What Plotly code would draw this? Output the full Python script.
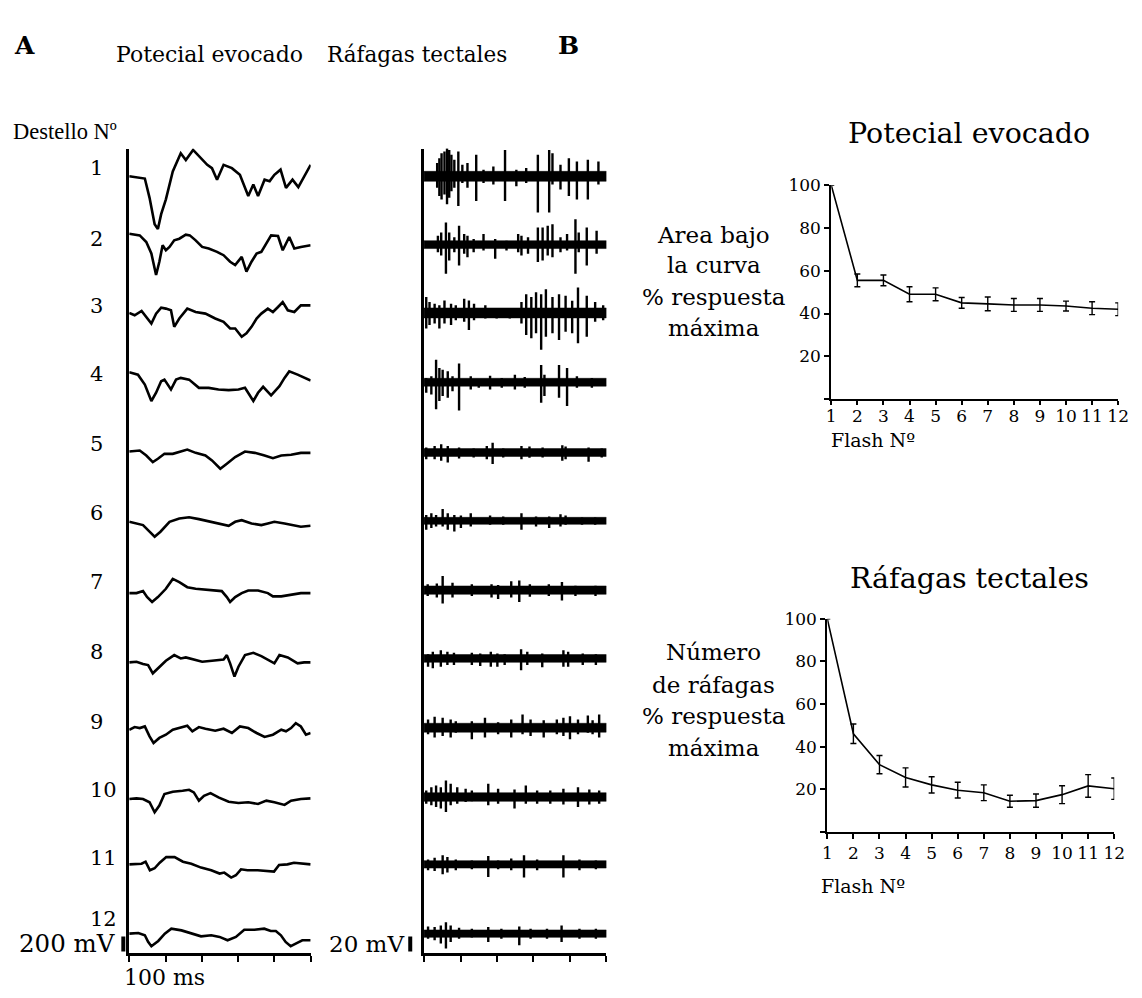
import plotly.graph_objects as go

# ---------------- DATA ----------------
FLASH = [1, 2, 3, 4, 5, 6, 7, 8, 9, 10, 11, 12]
EP_AREA = [100, 55.5, 55.5, 49, 49, 45, 44.5, 44, 44, 43.5, 42.5, 42]
EP_AREA_ERR = [0, 3, 2.5, 3.5, 3, 2.5, 3.2, 3, 3, 2.3, 3, 3]
BURST_N = [100, 46, 31.5, 25.5, 22, 19.5, 18.3, 14.3, 14.6, 17.4, 21.5, 20.2]
BURST_N_ERR = [0, 4.6, 4.3, 4.5, 3.8, 3.7, 3.7, 2.8, 3.1, 4.2, 5.3, 5]
Y_TICKS = [0, 20, 40, 60, 80, 100]
Y_TICK_TEXT = ["", "20", "40", "60", "80", "100"]
T_TICKS = [0, 100, 200, 300, 400, 500]
TRACE_LABELS = ["1", "2", "3", "4", "5", "6", "7", "8", "9", "10", "11", "12"]
YLAB_TOP = ["Area bajo", "la curva", "% respuesta", "máxima"]
YLAB_BOT = ["Número", "de ráfagas", "% respuesta", "máxima"]

# evoked potentials: time (ms) and amplitude (mV, relative to trace start)
EP_T = [
    [0, 43, 56, 70, 79, 88, 101, 120, 142, 156, 176, 197, 215, 228, 242, 260, 283, 305, 328, 342, 355, 373, 387, 400, 417, 432, 450, 466, 500],
    [0, 29, 47, 61, 74, 83, 92, 101, 111, 124, 138, 156, 167, 183, 201, 219, 242, 260, 278, 292, 310, 323, 337, 351, 364, 378, 391, 410, 423, 441, 455, 473, 500],
    [0, 15, 34, 47, 61, 74, 88, 101, 115, 124, 138, 160, 183, 210, 237, 260, 278, 292, 310, 323, 337, 351, 364, 382, 396, 410, 423, 437, 455, 473, 500],
    [0, 24, 43, 61, 74, 88, 97, 115, 129, 142, 165, 192, 219, 246, 274, 301, 319, 333, 342, 355, 369, 391, 414, 428, 441, 464, 500],
    [0, 29, 47, 65, 79, 97, 120, 142, 160, 183, 210, 228, 251, 269, 292, 319, 346, 373, 396, 419, 446, 473, 500],
    [0, 38, 56, 70, 86, 111, 138, 165, 192, 228, 251, 274, 292, 310, 337, 364, 382, 400, 428, 455, 473, 500],
    [0, 20, 38, 49, 63, 79, 101, 120, 138, 160, 183, 219, 255, 269, 278, 292, 310, 328, 355, 382, 396, 419, 446, 473, 500],
    [0, 20, 38, 52, 65, 79, 101, 124, 142, 156, 174, 201, 228, 260, 269, 278, 290, 301, 319, 342, 364, 382, 400, 414, 437, 464, 482, 500],
    [0, 15, 29, 43, 56, 67, 83, 101, 120, 138, 160, 174, 192, 210, 237, 260, 283, 305, 328, 351, 373, 396, 419, 432, 446, 459, 473, 487, 500],
    [0, 20, 38, 56, 70, 83, 97, 120, 147, 165, 178, 192, 206, 224, 246, 274, 301, 328, 355, 378, 400, 428, 446, 473, 500],
    [0, 34, 45, 57, 70, 84, 102, 125, 148, 171, 198, 226, 249, 262, 281, 294, 308, 326, 354, 381, 399, 413, 436, 454, 473, 500],
    [0, 25, 43, 52, 61, 80, 98, 116, 144, 171, 198, 226, 249, 271, 294, 317, 345, 372, 390, 404, 418, 431, 445, 463, 477, 500],
]
EP_V = [
    [0, -30, -290, -645, -710, -510, -310, 65, 310, 220, 355, 245, 155, 110, -45, 155, 110, 20, -265, -110, -265, -45, -65, 20, 90, -155, -45, -145, 155],
    [0, -22, -111, -266, -555, -377, -155, -222, -178, -89, -67, -13, -22, -89, -178, -200, -244, -289, -377, -422, -311, -511, -377, -266, -244, -133, -22, -31, -222, -44, -200, -178, -155],
    [0, -31, 27, -53, -142, -9, 71, 58, 36, -187, -75, 58, 13, -9, -75, -120, -209, -209, -320, -275, -187, -75, -9, 58, 13, 80, 147, 36, 13, 102, 102],
    [0, -31, -164, -386, -275, -120, -98, -231, -98, -75, -98, -209, -209, -231, -240, -231, -209, -320, -386, -275, -195, -311, -186, -75, 13, -31, -111],
    [0, 13, -53, -142, -98, -31, -31, 0, 27, -18, -53, -120, -231, -164, -75, 0, -18, -53, -89, -53, -44, -18, -18],
    [0, -44, -133, -200, -133, 0, 44, 62, 36, 0, -22, -53, 0, 22, -22, -44, -22, 0, -22, -44, -67, -53],
    [0, 0, 27, -53, -120, -53, 58, 191, 147, 80, 58, 44, 27, -53, -120, -53, 0, 36, 36, 0, -44, -44, -18, 0, 0],
    [0, 9, -22, -36, -147, -80, 22, 98, 53, 67, 40, 9, 22, 40, 98, -13, -191, -58, 98, 129, 84, 40, -13, 98, 67, -13, 0, 0],
    [0, 36, 22, 44, -89, -178, -111, -67, 0, 22, 53, -22, 36, 13, -13, 13, -44, 44, 22, -44, -98, -67, 0, -22, 22, 89, 44, -67, -44],
    [0, 9, 0, -44, -178, -89, 67, 98, 111, 124, 89, -22, 44, 80, 22, -36, -53, -44, -67, -22, -44, -80, -22, 0, 9],
    [0, 9, 36, -80, -53, 22, 98, 98, 36, 9, -44, -80, -124, -111, -178, -147, -67, -80, -80, -89, -98, -9, 0, 22, 9, 0],
    [0, 9, -22, -111, -169, -98, 0, 67, 44, 9, -36, -22, -44, -89, -44, 53, 53, 67, 36, 36, -22, -111, -169, -124, -89, -89],
]

# tectal bursts: spike times (ms), upward and downward excursions (mV), background noise (mV)
BU_T = [
    [36, 42, 48, 56, 63, 69, 75, 83, 94, 105, 119, 143, 163, 190, 222, 253, 280, 312, 343, 352, 374, 397, 419, 449, 478],
    [38, 47, 60, 69, 83, 96, 110, 119, 136, 163, 195, 226, 258, 267, 285, 312, 325, 339, 352, 374, 392, 415, 424, 446, 473],
    [6, 15, 29, 42, 56, 74, 87, 110, 123, 137, 168, 199, 235, 267, 280, 294, 307, 321, 334, 352, 370, 388, 406, 422, 446, 469, 491],
    [6, 20, 33, 42, 51, 65, 78, 96, 128, 150, 181, 213, 249, 276, 321, 330, 370, 392, 419, 460],
    [6, 29, 47, 65, 96, 136, 172, 188, 217, 267, 289, 325, 379, 388, 451, 487],
    [6, 20, 33, 51, 65, 83, 101, 128, 181, 217, 267, 307, 343, 374, 388, 433, 469],
    [10, 35, 51, 78, 131, 185, 203, 239, 261, 290, 342, 378, 415, 470],
    [11, 24, 46, 64, 82, 131, 154, 183, 201, 221, 266, 283, 324, 382, 395, 435, 471],
    [11, 29, 51, 73, 87, 131, 167, 203, 239, 270, 292, 328, 364, 382, 400, 422, 449, 462, 480],
    [6, 20, 33, 46, 60, 73, 91, 114, 131, 176, 203, 248, 279, 310, 346, 382, 422, 453, 480],
    [11, 29, 51, 64, 87, 131, 176, 203, 239, 274, 310, 382, 426, 471],
    [11, 29, 46, 60, 73, 96, 131, 176, 212, 261, 292, 337, 377, 426, 471],
]
BU_UP = [
    [17.8, 24.4, 31.1, 33.3, 37.7, 35.5, 28.9, 22.2, 33.3, 15.5, 17.8, 28.9, 8.9, 13.3, 35.5, 8.9, 11.1, 28.9, 35.5, 31.1, 15.5, 24.4, 20, 22.2, 20],
    [12, 16.4, 29.7, 16.4, 9.8, 25.3, 14.2, 12, 7.5, 14.2, 7.5, 5.3, 14.2, 12, 9.8, 23.1, 23.1, 25.3, 27.5, 9.8, 14.2, 34.2, 16.4, 23.1, 18.7],
    [21.3, 14.7, 12.4, 10.2, 16.9, 12.4, 10.2, 19.1, 16.9, 12.4, 10.2, 5.8, 5.8, 14.7, 25.3, 21.3, 28, 25.3, 32, 21.3, 25.3, 23.1, 16.4, 34.2, 23.1, 14.7, 10.2],
    [5.8, 8, 30.2, 19.1, 16.9, 14.7, 8, 25.3, 8, 3.6, 8.9, 5.8, 10.2, 7.1, 23.1, 10.2, 23.1, 19.1, 8, 5.8],
    [6.7, 8.9, 11.1, 8.9, 6.7, 5.3, 8.9, 13.3, 5.3, 8.9, 8, 6.7, 9.8, 8, 6.7, 5.3],
    [8, 10.2, 8, 16, 10.2, 8, 7.1, 10.2, 7.1, 5.8, 10.2, 5.8, 5.8, 8.9, 7.1, 4.4, 4.4],
    [8, 9, 19, 10, 8, 8, 7, 12, 13, 8, 8, 11, 6, 6],
    [5.8, 8.9, 11.1, 8.9, 7.5, 7.5, 6.7, 8.9, 6.7, 5.8, 12.4, 8.9, 6.7, 11.1, 8.9, 6.7, 5.8],
    [11.1, 14.7, 13.3, 11.1, 8.9, 8.9, 13.3, 7.5, 11.1, 17.8, 11.1, 10.2, 11.1, 13.3, 15.5, 11.1, 16.4, 10.2, 17.8],
    [8.9, 13.3, 15.5, 13.3, 22.2, 17.8, 13.3, 11.1, 8.9, 17.8, 11.1, 10.2, 15.5, 8.9, 8.9, 11.1, 13.3, 10.2, 8.9],
    [6.7, 8.9, 12.4, 9.8, 6.7, 5.3, 11.1, 5.3, 8, 12.4, 6.7, 12.4, 6.7, 5.3],
    [9.8, 8.9, 11.1, 15.5, 11.1, 8, 6.7, 8.9, 6.7, 9.8, 6.7, 6.7, 11.1, 6.7, 6.7],
]
BU_DN = [
    [15.5, 26.6, 31.1, 24.4, 37.7, 28.9, 20, 15.5, 40, 8.9, 15.5, 33.3, 8.9, 11.1, 33.3, 13.3, 8.9, 48.8, 48.8, 11.1, 17.8, 26.6, 31.1, 31.1, 11.1],
    [10.2, 14.7, 39.1, 21.3, 10.2, 28, 12.4, 16.9, 10.2, 8, 19.1, 8, 10.2, 14.7, 12.4, 23.5, 21.3, 14.7, 16.9, 10.2, 8, 39.1, 10.2, 28, 12.4],
    [20.9, 16.4, 14.2, 20.9, 14.2, 16.4, 9.8, 12, 23.1, 9.8, 7.5, 7.5, 7.5, 14.2, 29.7, 34.2, 27.5, 49.7, 32, 27.5, 36.4, 25.3, 27.5, 40.8, 32, 12, 9.8],
    [14.2, 16.4, 36.4, 25.3, 18.7, 20.9, 12, 38.2, 9.8, 7.5, 9.8, 7.5, 9.8, 7.5, 27.5, 18.7, 20.9, 32, 7.5, 7.5],
    [8.9, 8.9, 11.1, 13.3, 8, 6.7, 8.9, 15.5, 6.7, 8.9, 7.1, 6.7, 11.1, 8.9, 12.4, 6.7],
    [12, 9.8, 7.5, 7.5, 12, 14.2, 9.8, 7.5, 5.3, 5.3, 12, 7.5, 9.8, 7.5, 5.3, 5.3, 5.3],
    [8, 10, 18, 10, 8, 10, 12, 10, 16, 9, 8, 14, 8, 8],
    [11.1, 13.3, 11.1, 8.9, 8.9, 8.9, 10.2, 11.1, 11.1, 8.9, 16, 8.9, 12, 11.1, 11.1, 8.9, 8.9],
    [8.9, 13.3, 11.1, 13.3, 6.7, 15.5, 13.3, 8.9, 13.3, 8.9, 11.1, 13.3, 8.9, 11.1, 15.5, 8.9, 6.7, 8.9, 13.3],
    [8.9, 11.1, 13.3, 15.5, 20, 11.1, 8.9, 6.7, 5.8, 11.1, 8.9, 15.5, 8.9, 8.9, 8.9, 10.2, 13.3, 10.2, 8.9],
    [8, 8.9, 13.3, 11.1, 8, 6.7, 16.9, 6.7, 8, 17.8, 8, 17.8, 8, 6.7],
    [6.7, 8.9, 13.3, 20, 11.1, 6.7, 5.3, 11.1, 6.7, 15.5, 6.7, 6.7, 11.1, 6.7, 6.7],
]
BU_NOISE = [6.7, 5.3, 6.7, 5.3, 5.3, 4.7, 5.6, 5.2, 6.0, 5.8, 5.0, 5.0]

# ---------------- LAYOUT / STYLE ----------------
W, H = 1142, 998
FONT = "DejaVu Serif"
FONT2 = "Liberation Serif"
EP_MV_PER_PX = 200 / 15.0   # 200 mV scale bar ~ 15 px
BU_MV_PER_PX = 20 / 15.0    # 20 mV scale bar ~ 15 px
A_TOP, A_BOT = 140, 953
EP_BASE_PX = [168, 226, 306, 366, 446, 517, 589, 659, 727, 797, 863, 933]
BU_BASE_PX = [168, 237, 306, 376, 447, 516, 586, 655, 725, 795, 863, 933]
LABEL_Y_PX = [160, 231, 299, 368, 438, 508, 578, 648, 719, 788, 857, 918]
YLAB_TOP_Y = [227, 258, 290, 321]
YLAB_BOT_Y = [649, 682, 713, 745]


def px(x):
    return x / W


def py(y):
    return 1 - y / H


fig = go.Figure()

# Evoked potential traces
for i in range(12):
    off = (A_BOT - EP_BASE_PX[i]) * EP_MV_PER_PX
    fig.add_trace(go.Scatter(
        x=EP_T[i], y=[v + off for v in EP_V[i]], mode="lines",
        line=dict(color="black", width=2.6),
        xaxis="x", yaxis="y", hoverinfo="skip"))

# Tectal burst traces
for i in range(12):
    off = (A_BOT - BU_BASE_PX[i]) * BU_MV_PER_PX
    n = BU_NOISE[i]
    fig.add_trace(go.Scatter(
        x=[0, 500, 500, 0, 0], y=[off + n, off + n, off - n, off - n, off + n],
        mode="lines", fill="toself", fillcolor="black",
        line=dict(color="black", width=0.5),
        xaxis="x2", yaxis="y2", hoverinfo="skip"))
    xs, ys = [], []
    for t, u, d in zip(BU_T[i], BU_UP[i], BU_DN[i]):
        xs += [t, t, None]
        ys += [off + u, off - d, None]
    fig.add_trace(go.Scatter(
        x=xs, y=ys, mode="lines", line=dict(color="black", width=2.4),
        xaxis="x2", yaxis="y2", hoverinfo="skip"))

# Panel B
fig.add_trace(go.Scatter(
    x=FLASH, y=EP_AREA, mode="lines", line=dict(color="black", width=1.6),
    error_y=dict(type="data", array=EP_AREA_ERR, color="black", thickness=1.4, width=3),
    xaxis="x3", yaxis="y3", cliponaxis=False, hoverinfo="skip"))
fig.add_trace(go.Scatter(
    x=FLASH, y=BURST_N, mode="lines", line=dict(color="black", width=1.6),
    error_y=dict(type="data", array=BURST_N_ERR, color="black", thickness=1.4, width=3),
    xaxis="x4", yaxis="y4", cliponaxis=False, hoverinfo="skip"))

ax_common = dict(showgrid=False, zeroline=False, showline=True, linecolor="black",
                 mirror=False, fixedrange=True)
tick_font = dict(family=FONT, size=17, color="black")

layout = dict(
    width=W, height=H, margin=dict(l=0, r=0, t=0, b=0, pad=0),
    paper_bgcolor="white", plot_bgcolor="white", showlegend=False,
    font=dict(family=FONT, color="black"),
    xaxis=dict(**ax_common, domain=[px(126), px(310)], range=[0, 500], anchor="y",
               tickvals=T_TICKS, ticks="outside", ticklen=6, tickwidth=2, tickcolor="black",
               showticklabels=False, linewidth=2.5),
    yaxis=dict(**ax_common, domain=[py(A_BOT), py(A_TOP)],
               range=[0, (A_BOT - A_TOP) * EP_MV_PER_PX], anchor="x",
               ticks="", showticklabels=False, linewidth=2.5),
    xaxis2=dict(**ax_common, domain=[px(425), px(610)], range=[0, 500], anchor="y2",
                tickvals=T_TICKS, ticks="outside", ticklen=6, tickwidth=2, tickcolor="black",
                showticklabels=False, linewidth=2.5),
    yaxis2=dict(**ax_common, domain=[py(A_BOT), py(A_TOP)],
                range=[0, (A_BOT - A_TOP) * BU_MV_PER_PX], anchor="x2",
                ticks="", showticklabels=False, linewidth=2.5),
    xaxis3=dict(**ax_common, domain=[px(838), px(1129)], range=[1, 12], anchor="y3",
                tickvals=FLASH, ticks="outside", ticklen=4, tickwidth=1.5, tickcolor="black",
                linewidth=2, tickangle=0, tickfont=tick_font, ticklabelstandoff=-3),
    yaxis3=dict(**ax_common, domain=[py(393), py(177)], range=[0, 100], anchor="x3",
                tickvals=Y_TICKS, ticktext=Y_TICK_TEXT, ticks="outside", ticklen=5,
                tickwidth=1.5, tickcolor="black", linewidth=2, tickfont=tick_font),
    xaxis4=dict(**ax_common, domain=[px(834), px(1125)], range=[1, 12], anchor="y4",
                tickvals=FLASH, ticks="outside", ticklen=5, tickwidth=1.5, tickcolor="black",
                linewidth=2, tickangle=0, tickfont=tick_font),
    yaxis4=dict(**ax_common, domain=[py(830), py(615)], range=[0, 100], anchor="x4",
                tickvals=Y_TICKS, ticktext=Y_TICK_TEXT, ticks="outside", ticklen=5,
                tickwidth=1.5, tickcolor="black", linewidth=2, tickfont=tick_font),
)
fig.update_layout(**layout)

ann = []


def add_text(text, x, y, size, xanchor="center", yanchor="middle", bold=False, family=FONT):
    if bold:
        text = "<b>" + text + "</b>"
    ann.append(dict(text=text, x=px(x), y=py(y), xref="paper", yref="paper",
                    xanchor=xanchor, yanchor=yanchor, showarrow=False,
                    borderpad=0, font=dict(family=family, size=size, color="black")))


add_text("A", 8, 36, 25, xanchor="left", bold=True)
add_text("B", 560, 36, 25, xanchor="left", bold=True)
add_text("Potecial evocado", 207, 45, 22)
add_text("Ráfagas tectales", 418, 45, 21.5)
add_text("Destello Nº", 7, 123, 22.5, xanchor="left", family=FONT2)
for lab, yy in zip(TRACE_LABELS, LABEL_Y_PX):
    add_text(lab, 85, yy, 21, xanchor="left")
add_text("200 mV", 114, 943, 24.5, xanchor="right")
add_text("100 ms", 120, 977, 22, xanchor="left")
add_text("20 mV", 406, 943, 23, xanchor="right")

add_text("Potecial evocado", 978, 125, 28.5)
for t, yy in zip(YLAB_TOP, YLAB_TOP_Y):
    add_text(t, 719, yy, 23)
add_text("Flash Nº", 837, 434, 19, xanchor="left")
add_text("Ráfagas tectales", 978, 574, 28.5)
for t, yy in zip(YLAB_BOT, YLAB_BOT_Y):
    add_text(t, 719, yy, 23)
add_text("Flash Nº", 827, 885, 19, xanchor="left")

fig.update_layout(annotations=ann)

# scale bars
shapes = [
    dict(type="line", xref="paper", yref="y", x0=px(120), x1=px(120),
         y0=2 * EP_MV_PER_PX, y1=2 * EP_MV_PER_PX + 200, line=dict(color="black", width=4)),
    dict(type="line", xref="paper", yref="y2", x0=px(411), x1=px(411),
         y0=2 * BU_MV_PER_PX, y1=2 * BU_MV_PER_PX + 20, line=dict(color="black", width=4)),
]
fig.update_layout(shapes=shapes)

fig.write_html("out.html",
               post_script="document.body.style.margin='0';document.body.style.padding='0';")
